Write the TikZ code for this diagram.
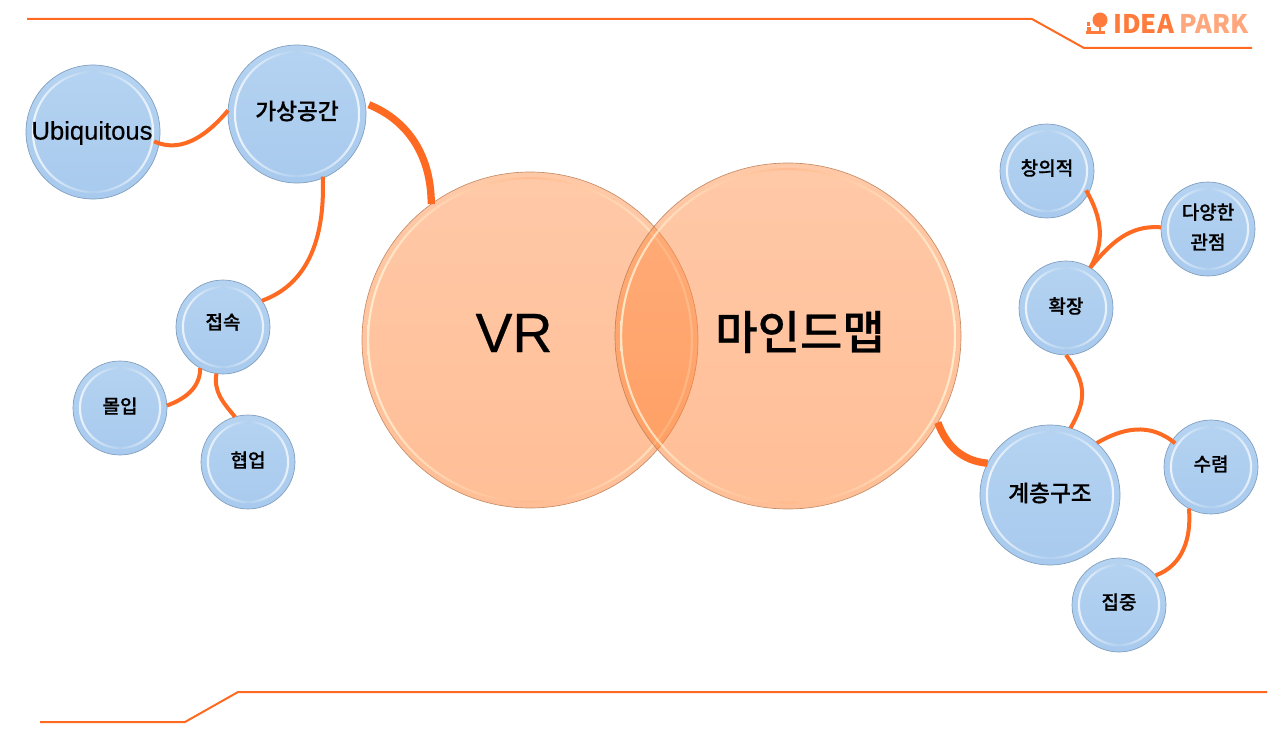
\documentclass[tikz,border=0pt]{standalone}
\usepackage{fontspec}
\setmainfont{Noto Sans CJK KR Medium}
\newfontfamily\arialfont[FakeBold=0.4]{Liberation Sans}
\newfontfamily\krfont[FakeBold=0.5]{Noto Sans CJK KR Medium}
\usetikzlibrary{calc,positioning}

\definecolor{lineorange}{HTML}{FF6A22}
\definecolor{logoorange}{HTML}{FF7B3C}
\definecolor{logolight}{HTML}{FFA77C}
\definecolor{bubbletop}{HTML}{B5D3F1}
\definecolor{bubblelow}{HTML}{A8CAEE}
\definecolor{bubbleedge}{HTML}{7F9DBC}
\definecolor{ringmid}{HTML}{B4D2F0}
\definecolor{disctop}{HTML}{FF9250}
\definecolor{disclow}{HTML}{FF7E2E}
\definecolor{discedge}{HTML}{B87A50}
\definecolor{discring}{HTML}{FFB98C}
\definecolor{discside}{HTML}{FFF8DC}

\begin{document}
\begin{tikzpicture}[
                x=0.75pt,y=-0.75pt,
                bubble/.style={circle,draw=bubbleedge,line width=0.5pt,inner sep=0pt,outer sep=0pt,
                    minimum size=#1*1.5pt,top color=bubbletop,bottom color=bubblelow,
                    path picture={
                        \shade[even odd rule,fill opacity=0.85,left color=white,right color=white,middle color=ringmid]
                            (path picture bounding box.center) circle (#1*0.75pt-4.4pt)
                            (path picture bounding box.center) circle (#1*0.75pt-6pt);
                    }},
                disc/.style={circle,draw=discedge,line width=0.5pt,inner sep=0pt,outer sep=0pt,
                    minimum size=#1*1.5pt,fill opacity=0.5,draw opacity=0.8,
                    top color=disctop,bottom color=disclow,
                    path picture={
                        \shade[even odd rule,fill opacity=0.8,left color=discside,right color=discside,middle color=discring]
                            (path picture bounding box.center) circle (#1*0.75pt-3.8pt)
                            (path picture bounding box.center) circle (#1*0.75pt-5.4pt);
                    }},
                small/.style={font=\fontsize{14.3pt}{22.5pt}\krfont\selectfont,align=center},
                large/.style={font=\fontsize{17pt}{20pt}\krfont\selectfont},
                rim/.style={draw=lineorange,line width=1.5pt},
                branch/.style={draw=lineorange,line width=3pt},
                trunk/.style={draw=lineorange,line width=5.5pt}
            ]
                \useasboundingbox (0,0) rectangle (1282,735);

                % frame lines
                \coordinate (T1) at (27,19);
                \coordinate (T2) at (1032,19);
                \coordinate (T3) at (1084,48);
                \coordinate (T4) at (1252,48);
                \coordinate (F1) at (40,722);
                \coordinate (F2) at (185,722);
                \coordinate (F3) at (238,692);
                \coordinate (F4) at (1267,692);
                \draw[rim] (T1) -- (T2) -- (T3) -- (T4);
                \draw[rim] (F1) -- (F2) -- (F3) -- (F4);

                % logo
                \fill[logoorange] (1100,20) circle (7.5pt*0.75);
                \fill[logoorange] (1086,31) rectangle (1105,34);
                \fill[logoorange] (1098.5,26) rectangle (1100.5,32);
                \fill[logoorange] (1087,22) rectangle (1090,26);
                \fill[logoorange] (1087,27) rectangle (1091,32);
                \node (logo) [anchor=west,inner sep=0pt,font=\fontsize{19.2pt}{20pt}\selectfont\bfseries] at (1113,24)
                    {\textcolor{logoorange}{IDEA} \textcolor{logolight}{PARK}};

                % the two big circles
                \node (VR) [disc=168] at (530,340) {};
                \node (Mind) [disc=173] at (788,336) {};
                \node (VRtext) [font=\fontsize{41.5pt}{50pt}\arialfont\selectfont] at (514,333) {VR};
                \node (Mindtext) [font=\fontsize{34.5pt}{40pt}\krfont\selectfont] at (800,332) {마인드맵};

                % left group
                \node (Ubi) [bubble=67] at (93,132) {};
                \node (Ubitext) [font=\fontsize{19.2pt}{20pt}\arialfont\selectfont] at (92,133) {Ubiquitous};
                \node (Space) [bubble=69] at (297,114) {};
                \node (Spacetext) [large] at (297,111) {가상공간};
                \node (Access) [bubble=47] at (223,327) {};
                \node (Accesstext) [small] at (223,322) {접속};
                \node (Immerse) [bubble=47] at (120,408) {};
                \node (Immersetext) [small] at (120,406) {몰입};
                \node (Collab) [bubble=47] at (248,462) {};
                \node (Collabtext) [small] at (248,460) {협업};

                % right group
                \node (Creative) [bubble=47] at (1047,171) {};
                \node (Creativetext) [small] at (1047,168) {창의적};
                \node (Views) [bubble=47] at (1208,229) {};
                \node (Viewstext) [small] at (1208,227) {다양한\\관점};
                \node (Expand) [bubble=47] at (1066,308) {};
                \node (Expandtext) [small] at (1066,306) {확장};
                \node (Layer) [bubble=70] at (1050,495) {};
                \node (Layertext) [large] at (1050,493) {계층구조};
                \node (Converge) [bubble=47] at (1211,467) {};
                \node (Convergetext) [small] at (1211,464) {수렴};
                \node (Focus) [bubble=47] at (1119,605) {};
                \node (Focustext) [small] at (1119,602) {집중};

                % connectors
                \draw[trunk,shorten <=3pt] (Space.9) to[out=-22,in=90] (VR.126);
                \draw[trunk] (Mind.-30) to[out=-70,in=175] (Layer.153);
                \draw[branch,shorten <=-4pt] (Ubi.-10) to[out=-25,in=-130,looseness=0.9] (Space.177);
                \draw[branch,shorten <=-1pt] (Space.-68) to[out=-88,in=20] (Access.34);
                \draw[branch] (Access.241) to[out=-90,in=20] (Immerse.3);
                \draw[branch] (Access.262) to[out=-100,in=130] (Collab.106);
                \draw[branch,shorten <=-3pt] (Creative.-29) to[out=-60,in=60] (Expand.59);
                \draw[branch] (Views.178) to[out=175,in=50] (Expand.59);
                \draw[branch] (Expand.-90) to[out=-55,in=60,looseness=1.2] (Layer.73);
                \draw[branch,shorten >=-3pt] (Layer.48) to[out=30,in=140] (Converge.146);
                \draw[branch] (Converge.242) to[out=-85,in=20] (Focus.39);
            \end{tikzpicture}
\end{document}
